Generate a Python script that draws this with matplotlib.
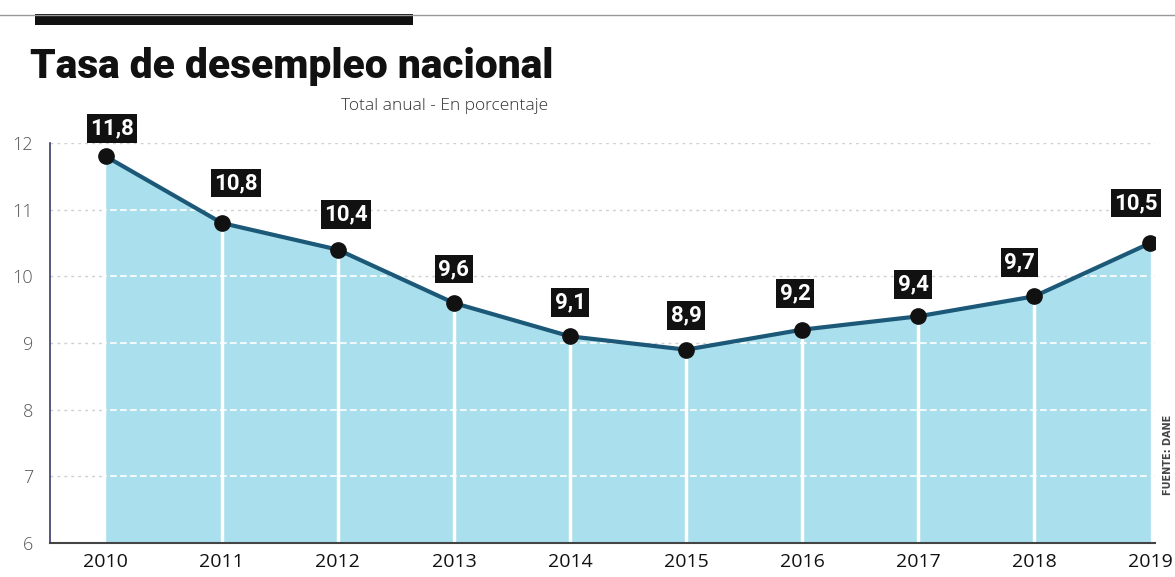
import numpy as np
import matplotlib.pyplot as plt
from matplotlib.patches import Rectangle
from matplotlib.lines import Line2D

years = [2010, 2011, 2012, 2013, 2014, 2015, 2016, 2017, 2018, 2019]
tasa = [11.8, 10.8, 10.4, 9.6, 9.1, 8.9, 9.2, 9.4, 9.7, 10.5]
etiquetas = ['11,8', '10,8', '10,4', '9,6', '9,1', '8,9', '9,2', '9,4', '9,7', '10,5']
yticks = [6, 7, 8, 9, 10, 11, 12]

# desplazamiento de las etiquetas (pixeles)
dx = [6, 14, 8, 0, 0, 0, -7, -5, -15, -14]
dy = [28, 40, 35, 34, 34, 34, 36, 32, 34, 40]

fig = plt.figure(figsize=(11.75, 5.77), dpi=100)
ax = fig.add_axes([50 / 1175, 1 - 543 / 577, 1105 / 1175, 400 / 577])

fill_color = '#aadfee'
line_color = '#1c5877'

ax.set_xlim(2009.52, 2019.04)
ax.set_ylim(6, 12)

# rejilla gris fuera del area
for y in yticks[1:]:
    ax.axhline(y, color='#cfcfcf', lw=1, ls=(0, (2, 3)), zorder=0)

poly = ax.fill_between(years, 6, tasa, color=fill_color, lw=0, zorder=1)
for y in yticks[1:]:
    hl = ax.axhline(y, color='white', lw=1.2, ls=(0, (4, 2)), zorder=2)
    hl.set_clip_path(poly.get_paths()[0], ax.transData)
ax.vlines(years[1:-1], 6, tasa[1:-1], color='white', lw=2.5, zorder=2)

ax.plot(years, tasa, color=line_color, lw=3, zorder=3)
ax.plot(years, tasa, 'o', color='#111111', ms=11, zorder=4)

for x, v, t, ox, oy in zip(years, tasa, etiquetas, dx, dy):
    ax.annotate(t, (x, v), xytext=(ox, oy), textcoords='offset pixels',
                ha='center', va='center', color='white', fontsize=16,
                fontweight='bold', family=['Roboto', 'DejaVu Sans'],
                bbox=dict(boxstyle='square,pad=0.15', fc='#111111', ec='none'),
                zorder=5, annotation_clip=False)

ax.set_xticks(years)
ax.set_xticklabels([str(y) for y in years], fontsize=14, color='#111111',
                   family=['Open Sans', 'DejaVu Sans'], fontweight='normal')
ax.set_yticks(yticks)
ax.set_yticklabels([str(y) for y in yticks], fontsize=13, color='#555555',
                   family=['Open Sans', 'DejaVu Sans'], fontweight='light')
ax.tick_params(axis='x', length=0, pad=7)
ax.tick_params(axis='y', length=0, pad=12)

for s in ['top', 'right']:
    ax.spines[s].set_visible(False)
ax.spines['left'].set_color('#3a3a6a')
ax.spines['left'].set_linewidth(1.2)
ax.spines['bottom'].set_color('#444444')
ax.spines['bottom'].set_linewidth(1.5)
ax.set_facecolor('none')

# cabecera
fig.add_artist(Line2D([0.0, 1.0], [1 - 15 / 577, 1 - 15 / 577], color='#999999', lw=1))
fig.add_artist(Rectangle((35 / 1175, 1 - 25 / 577), 378 / 1175, 11 / 577,
                         color='#111111', lw=0))
fig.text(30 / 1175, 1 - 78 / 577, 'Tasa de desempleo nacional', fontsize=29.3,
         fontweight='black', color='#111111',
         family=['Roboto', 'DejaVu Sans'], va='baseline')
fig.text(548 / 1175, 1 - 110 / 577, 'Total anual - En porcentaje', fontsize=12.5,
         color='#333333', fontweight='light', family=['Open Sans', 'DejaVu Sans'],
         ha='right', va='baseline')
fig.text(1168 / 1175, 1 - 455 / 577, 'FUENTE: DANE', fontsize=7, rotation=90,
         fontweight='bold', color='#444444', ha='center', va='center')

fig.savefig('out.png', dpi=100)
